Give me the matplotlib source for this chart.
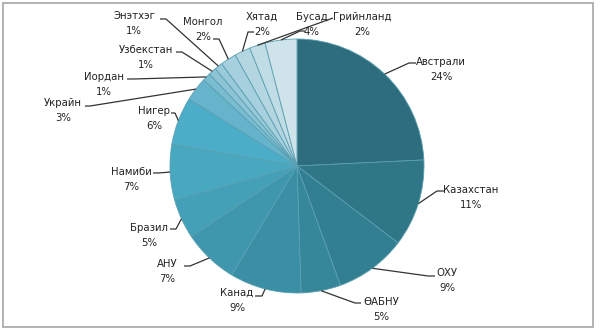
import numpy as np
import matplotlib
matplotlib.use("Agg")
import matplotlib.pyplot as plt
from matplotlib.patches import Rectangle

# Share of world uranium production by country (percent)
countries = ["Австрали", "Казахстан", "ОХУ", "ӨАБНУ", "Канад", "АНУ", "Бразил",
             "Намиби", "Нигер", "Украйн", "Иордан", "Узбекстан", "Энэтхэг",
             "Монгол", "Хятад", "Грийнланд", "Бусад"]
shares = [24, 11, 9, 5, 9, 7, 5, 7, 6, 3, 1, 1, 1, 2, 2, 2, 4]

colors = ["#2d6d7d", "#2f7686", "#327f91", "#36879a", "#3a8fa4", "#3e97ad",
          "#43a0b7", "#47a8c0", "#4badc7", "#66b4cb", "#7bbdd0", "#8cc4d5",
          "#98cad9", "#a6d0dd", "#b4d6e1", "#c0dce5", "#cfe3ea"]

# label block centre (name line) in pixel coordinates, y downwards
label_pos = [(441, 62), (471, 190), (447, 273), (381, 302), (237, 293),
             (167, 264), (149, 228), (131, 172), (154, 111), (63, 103),
             (104, 77), (146, 50), (134, 16), (203, 22), (262, 17),
             (362, 17), (312, 17)]
# leader-line waypoints from the slice towards its label
leader_pts = [
    [(409, 63), (416, 63)],
    [(437, 191), (444, 191)],
    [(428, 276), (435, 276)],
    [(355, 303), (361, 303)],
    [(262, 296), (255, 296)],
    [(190, 266), (184, 266)],
    [(176, 229), (170, 229)],
    [(158, 173), (153, 173)],
    [(175, 113), (171, 113)],
    [(90, 106), (85, 106)],
    [(133, 79), (127, 79)],
    [(182, 52), (176, 52)],
    [(166, 19), (160, 19)],
    [(219, 39), (213, 39)],
    [(248, 32), (254, 32)],
    [(333, 18)],
    [(300, 31), (305, 31)],
]

W, H = 600, 331
fig = plt.figure(figsize=(W / 100, H / 100), dpi=100)
ax = fig.add_axes([0, 0, 1, 1])

cx, cy, R = 297, 166, 127
wedges, _ = ax.pie(shares, colors=colors, startangle=-90, counterclock=True,
                   center=(cx, cy), radius=R,
                   wedgeprops=dict(edgecolor="#5a9fb2", linewidth=0.6))

ax.set_xlim(0, W)
ax.set_ylim(H, 0)
ax.set_aspect("auto")
ax.axis("off")

txt_color = "#222222"
fs = 7.3
for w, name, val, (lx, ly), pts in zip(wedges, countries, shares, label_pos, leader_pts):
    ang = np.deg2rad((w.theta1 + w.theta2) / 2)
    ax_pt = (cx + R * np.cos(ang), cy + R * np.sin(ang))
    xs = [ax_pt[0]] + [p[0] for p in pts]
    ys = [ax_pt[1]] + [p[1] for p in pts]
    ax.plot(xs, ys, color="#333333", lw=0.9, solid_capstyle="butt")
    ax.text(lx, ly, name, ha="center", va="center", fontsize=fs,
            color=txt_color, family="DejaVu Sans")
    ax.text(lx, ly + 15, f"{val}%", ha="center", va="center", fontsize=fs,
            color=txt_color, family="DejaVu Sans")

# chart frame
ax.add_patch(Rectangle((3, 3), 590, 324, fill=False, edgecolor="#a6a6a6",
                       linewidth=1.2))

fig.savefig("out.png", dpi=100)
